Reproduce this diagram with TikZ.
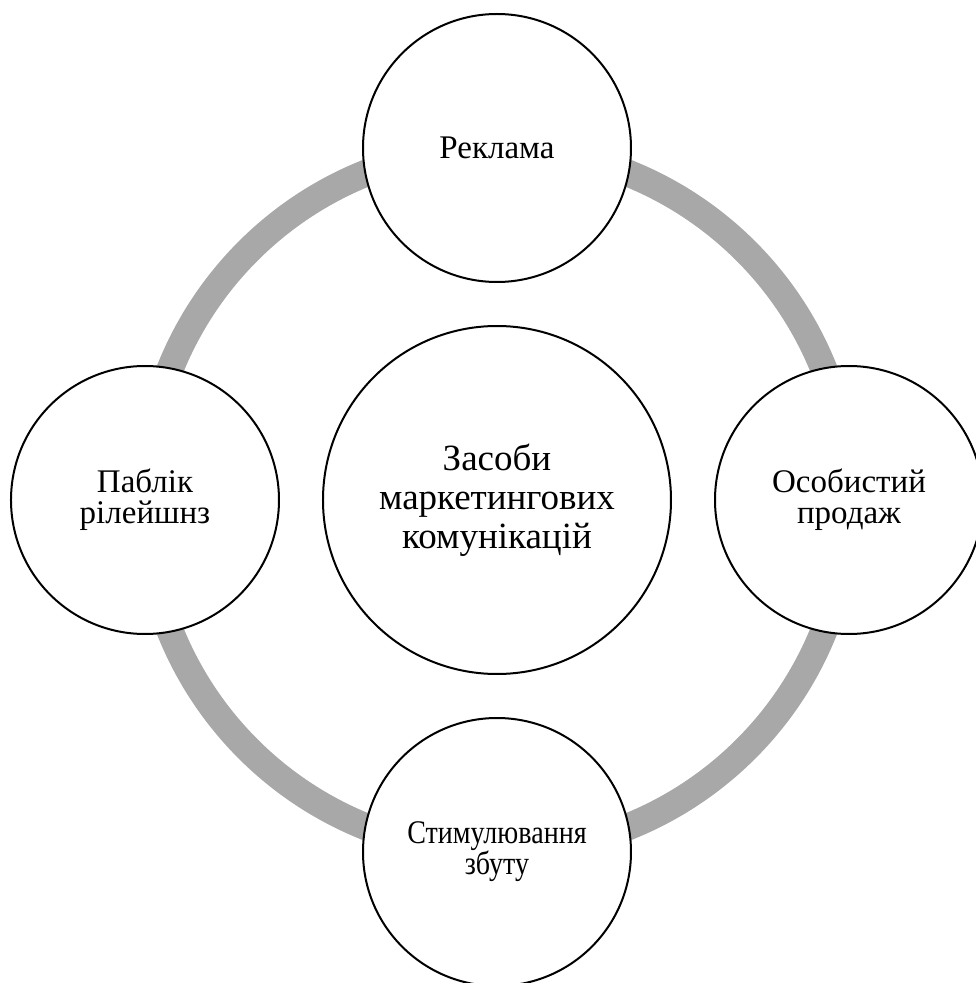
\documentclass[tikz,border=0pt]{standalone}
\usepackage{fontspec}
\usepackage{graphicx}
\setmainfont{Liberation Serif}
\usepackage{tikz}
\usetikzlibrary{positioning, backgrounds}
\definecolor{ringgray}{HTML}{A8A8A8}
\newcommand{\squeezed}[1]{\scalebox{0.85}[1]{#1}}

\begin{document}
\begin{tikzpicture}[x=1pt, y=1pt, node distance=352pt, on grid,
    hubcircle/.style={circle, draw=black, line width=2pt, fill=white, minimum size=348pt,
      align=center, inner sep=0pt, font=\fontsize{37}{39}\selectfont},
    toolcircle/.style={circle, draw=black, line width=2pt, fill=white, minimum size=268pt,
      align=center, inner sep=0pt, font=\fontsize{33}{31}\selectfont}]

    \useasboundingbox (-497,-483) rectangle (479,500);

    \node (hub) [hubcircle] {Засоби\\маркетингових\\комунікацій};
    \node (ads) [toolcircle, above=of hub] {Реклама};
    \node (sell) [toolcircle, right=of hub] {Особистий\\продаж};
    \node (promo) [toolcircle, below=of hub] {\squeezed{Стимулювання}\\\squeezed{збуту}};
    \node (pr) [toolcircle, left=of hub] {Паблік\\рілейшнз};

    \begin{scope}[on background layer]
      \draw [ringgray, line width=27pt] (hub.center) circle [radius=352pt];
    \end{scope}
\end{tikzpicture}
\end{document}
